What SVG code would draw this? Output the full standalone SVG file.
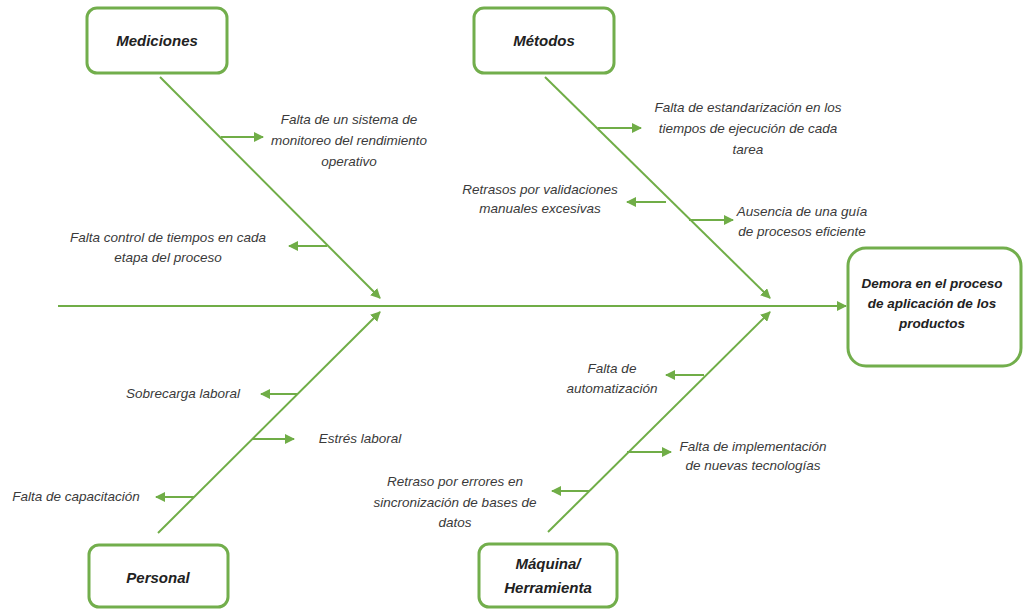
<svg xmlns="http://www.w3.org/2000/svg" width="1024" height="609" viewBox="0 0 1024 609">
<defs>
<marker id="ah" viewBox="0 0 10 10" refX="9" refY="5" markerWidth="5" markerHeight="5" orient="auto" markerUnits="strokeWidth">
<path d="M0,0 L10,5 L0,10 z" fill="#70ad47"/>
</marker>
<style>
.box{fill:#fff;stroke:#72ae4c;stroke-width:3}
.ln{stroke:#70ad47;stroke-width:2;fill:none;marker-end:url(#ah)}
.t{font-family:"Liberation Sans",Arial,sans-serif;font-style:italic;font-size:13.5px;fill:#3a3a3a;text-anchor:middle}
.b{font-family:"Liberation Sans",Arial,sans-serif;font-style:italic;font-weight:bold;font-size:15px;fill:#222;text-anchor:middle}
.h{font-family:"Liberation Sans",Arial,sans-serif;font-style:italic;font-weight:bold;font-size:13.5px;fill:#222;text-anchor:middle}
</style>
</defs>
<rect width="1024" height="609" fill="#fff"/>
<g id="connectors">
<line class="ln" x1="58" y1="306" x2="846" y2="306"/>
<line class="ln" x1="160" y1="77" x2="380" y2="298"/>
<line class="ln" x1="158" y1="533" x2="380" y2="312"/>
<line class="ln" x1="545" y1="77" x2="770" y2="298"/>
<line class="ln" x1="548" y1="532" x2="770" y2="312"/>
<line class="ln" x1="221" y1="137" x2="263" y2="137"/>
<line class="ln" x1="327" y1="246" x2="289" y2="246"/>
<line class="ln" x1="598" y1="128" x2="641" y2="128"/>
<line class="ln" x1="666" y1="202" x2="627" y2="202"/>
<line class="ln" x1="689" y1="220" x2="733" y2="220"/>
<line class="ln" x1="298" y1="394" x2="261" y2="394"/>
<line class="ln" x1="252" y1="439" x2="294" y2="439"/>
<line class="ln" x1="194" y1="497" x2="156" y2="497"/>
<line class="ln" x1="704" y1="375" x2="666" y2="375"/>
<line class="ln" x1="627" y1="452" x2="671" y2="452"/>
<line class="ln" x1="589" y1="491" x2="552" y2="491"/>
</g>
<g id="mediciones">
<rect class="box" x="87" y="8" width="140" height="65" rx="10"/>
<text class="b" x="157" y="46">Mediciones</text>
</g>
<g id="metodos">
<rect class="box" x="474" y="8" width="140" height="65" rx="10"/>
<text class="b" x="544" y="46">Métodos</text>
</g>
<g id="personal">
<rect class="box" x="89" y="545" width="139" height="62" rx="10"/>
<text class="b" x="158" y="583">Personal</text>
</g>
<g id="maquina">
<rect class="box" x="479" y="544" width="138" height="63" rx="10"/>
<text class="b" x="548" y="569">Máquina/</text>
<text class="b" x="548" y="593">Herramienta</text>
</g>
<g id="efecto">
<rect class="box" x="848" y="248" width="173" height="118" rx="18"/>
<text class="h" x="932" y="288">Demora en el proceso</text>
<text class="h" x="932" y="308">de aplicación de los</text>
<text class="h" x="932" y="328">productos</text>
</g>
<g id="causas">
<text class="t" x="349" y="124">Falta de un sistema de</text>
<text class="t" x="349" y="145">monitoreo del rendimiento</text>
<text class="t" x="349" y="166">operativo</text>
<text class="t" x="168" y="242">Falta control de tiempos en cada</text>
<text class="t" x="168" y="262">etapa del proceso</text>
<text class="t" x="748" y="112">Falta de estandarización en los</text>
<text class="t" x="748" y="133">tiempos de ejecución de cada</text>
<text class="t" x="748" y="154">tarea</text>
<text class="t" x="540" y="194">Retrasos por validaciones</text>
<text class="t" x="540" y="213">manuales excesivas</text>
<text class="t" x="802" y="216">Ausencia de una guía</text>
<text class="t" x="802" y="236">de procesos eficiente</text>
<text class="t" x="183" y="398">Sobrecarga laboral</text>
<text class="t" x="360" y="443">Estrés laboral</text>
<text class="t" x="76" y="501">Falta de capacitación</text>
<text class="t" x="612" y="373">Falta de</text>
<text class="t" x="612" y="393">automatización</text>
<text class="t" x="753" y="451">Falta de implementación</text>
<text class="t" x="753" y="470">de nuevas tecnologías</text>
<text class="t" x="455" y="486">Retraso por errores en</text>
<text class="t" x="455" y="507">sincronización de bases de</text>
<text class="t" x="455" y="527">datos</text>
</g>
</svg>
